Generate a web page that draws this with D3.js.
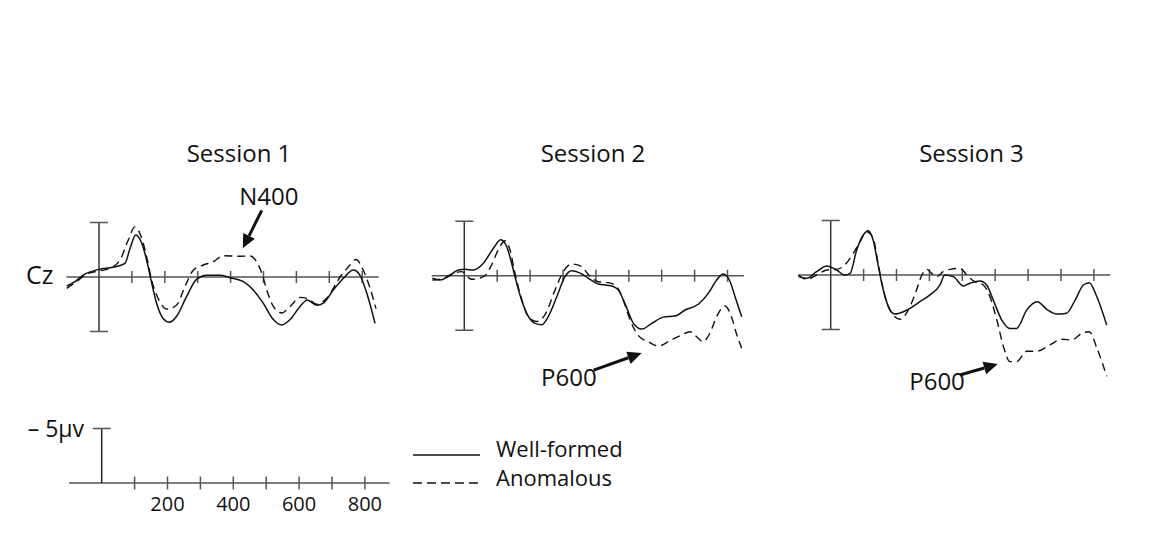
<!DOCTYPE html>
<html>
<head>
<meta charset="utf-8">
<script src="https://cdn.jsdelivr.net/npm/d3@7"></script>
<style>
  body { margin: 0; background: #fff; }
  text { font-family: "Open Sans", sans-serif; fill: #111; }
</style>
</head>
<body>
<div id="chart"></div>
<script>
// ERP waveforms at Cz, [time ms, amplitude µV] (negative plotted up)
const sessions = ["Session 1", "Session 2", "Session 3"];
const conditions = ["Well-formed", "Anomalous"];
const timeTicks = [100, 200, 300, 400, 500, 600, 700, 800];
const scaleLabels = [200, 400, 600, 800];

const wellS1 = [[-98,0.83],[-73,0.43],[-48,-0.18],[0,-0.7],[43,-0.89],[79,-1.26],[94,-2.6],[112,-3.85],[130,-3.1],[147,-1.26],[157,0.12],[175,2.4],[195,3.8],[214,4.15],[236,3.6],[266,1.8],[297,0.2],[327,-0.15],[368,-0.15],[398,0.06],[439,0.43],[469,1.2],[499,2.4],[530,3.9],[555,4.4],[581,3.9],[611,2.7],[633,2.1],[662,2.6],[682,2.4],[712,1.2],[743,0.12],[773,-0.64],[793,-0.18],[814,1.5],[839,4.25]];
const anomS1 = [[-98,1.04],[-68,0.43],[-37,-0.28],[0,-0.55],[33,-0.8],[64,-1.56],[89,-3.4],[109,-4.6],[130,-3.55],[147,-1.56],[160,0.28],[185,2.26],[206,2.94],[236,2.57],[261,0.89],[287,-0.64],[317,-1.1],[347,-1.4],[378,-1.95],[429,-1.9],[459,-1.93],[479,-1.4],[495,-0.34],[510,1.2],[530,2.7],[555,3.3],[581,2.7],[611,1.87],[636,2.0],[662,2.5],[692,1.95],[733,0],[763,-1.1],[781,-1.6],[803,-0.64],[824,1.04],[842,2.9]];

const wellS2 = [[-97,0.24],[-74,0.4],[-49,0.09],[-18,-0.52],[2,-0.59],[27,-0.52],[58,-1.14],[88,-2.5],[111,-3.3],[129,-2.66],[144,-1.14],[154,0.09],[174,2.23],[195,3.76],[215,4.37],[235,4.5],[255,3.76],[281,1.93],[306,0.09],[326,-0.46],[357,-0.16],[377,0.24],[407,0.76],[448,0.94],[468,1.3],[488,2.53],[514,4.37],[539,4.9],[570,4.37],[605,3.8],[641,3.7],[671,3.15],[712,2.6],[742,1.6],[767,0.4],[787,-0.16],[808,0.55],[823,1.93],[843,3.76]];
const anomS2 = [[-97,0.4],[-69,0.3],[-38,-0.16],[-8,-0.37],[22,0.33],[58,0.09],[83,-0.98],[103,-2.36],[124,-3.2],[139,-2.36],[152,-0.52],[169,1.6],[195,3.76],[220,4.2],[245,3.6],[276,1.3],[301,-0.37],[326,-1.07],[357,-0.83],[377,-0.1],[407,0.55],[438,0.64],[463,1.0],[483,2.23],[504,4.06],[529,5.5],[559,6.05],[590,6.45],[625,5.96],[661,5.44],[686,5.14],[706,5.6],[726,6.05],[746,5.3],[767,3.76],[792,2.78],[812,3.76],[827,5.3],[843,6.66]];

const wellS3 = [[-98,0.15],[-73,0.3],[-43,-0.3],[-12,-0.83],[18,-0.46],[43,0],[59,-0.15],[79,-2.3],[99,-3.67],[114,-4.06],[129,-3.2],[145,-0.76],[160,1.38],[180,3.2],[195,3.58],[221,3.37],[246,2.97],[271,2.45],[302,1.83],[332,0.92],[347,0],[373,0.15],[403,1.0],[423,0.76],[454,0.55],[474,0.92],[494,2.3],[520,4.13],[545,4.9],[565,4.9],[596,3.2],[628,2.45],[657,3.15],[687,3.58],[717,3.5],[743,2.3],[768,0.92],[786,0.7],[809,2.0],[839,4.6]];
const anomS3 = [[-98,0],[-73,0.4],[-43,0],[-12,-0.46],[18,-0.52],[43,-0.92],[69,-2.0],[89,-3.05],[109,-3.97],[129,-3.37],[145,-0.92],[160,1.38],[180,3.2],[211,4.06],[236,3.2],[261,1.38],[277,0],[292,-0.52],[307,-0.15],[322,0.15],[342,-0.3],[363,-0.52],[393,-0.61],[418,0.15],[438,0.61],[464,0.92],[484,2.0],[505,4.13],[525,6.57],[545,7.95],[565,7.95],[596,7.0],[626,7.0],[667,6.4],[702,5.9],[733,5.96],[763,5.35],[786,5.2],[809,6.7],[839,9.3]];

const wellSeries = [wellS1, wellS2, wellS3];
const anomSeries = [anomS1, anomS2, anomS3];

// annotation labels: [panel, label, tip time ms, tip amplitude µV]
const components = [[0, "N400", 437, -2.63], [1, "P600", 539, 7.1], [2, "P600", 508, 8.17]];

const width = 1155;
const height = 533;
const pxPer100ms = 32.9;
const pxPer5uv = 54.5;

// panel placement
const panels = [
  {x0: 99, y0: 277, titleX: 239, tail: [19, -38], label: [26, -43], anchor: "middle"},
  {x0: 464.3, y0: 275.7, titleX: 593, tail: [-48, 17], label: [-45, 33], anchor: "end"},
  {x0: 830.7, y0: 275, titleX: 971.5, tail: [-38, 11], label: [-33, 26], anchor: "end"}
];

const svg = d3.select("#chart")
  .append("svg")
  .attr("width", width)
  .attr("height", height);

const axisColor = "#555";

function xScaleFor(x0) {
  return d3.scaleLinear().domain([0, 800]).range([x0, x0 + 8 * pxPer100ms]);
}
function yScaleFor(y0) {
  return d3.scaleLinear().domain([-5, 5]).range([y0 - pxPer5uv, y0 + pxPer5uv]);
}

function arrow(g, tx, ty, fx, fy) {
  const ang = Math.atan2(ty - fy, tx - fx);
  const len = 14, half = 6.5;
  const bx = tx - len * Math.cos(ang), by = ty - len * Math.sin(ang);
  g.append("line")
    .attr("x1", fx).attr("y1", fy)
    .attr("x2", bx).attr("y2", by)
    .attr("stroke", "#111").attr("stroke-width", 3);
  g.append("path")
    .attr("d", d3.line()([
      [tx, ty],
      [bx + half * Math.sin(ang), by - half * Math.cos(ang)],
      [bx - half * Math.sin(ang), by + half * Math.cos(ang)]
    ]) + "Z")
    .attr("fill", "#111");
}

panels.forEach(function(p, i) {
  const x = xScaleFor(p.x0);
  const y = yScaleFor(p.y0);
  const g = svg.append("g");

  // time axis
  g.append("line")
    .attr("x1", x(-99)).attr("x2", x(850))
    .attr("y1", y(0)).attr("y2", y(0))
    .attr("stroke", axisColor).attr("stroke-width", 1.5);
  g.selectAll(".tick")
    .data(timeTicks)
    .enter()
    .append("line")
      .attr("x1", function(d) { return x(d); })
      .attr("x2", function(d) { return x(d); })
      .attr("y1", y(0) - 6).attr("y2", y(0) + 6)
      .attr("stroke", axisColor).attr("stroke-width", 1.5);

  // amplitude bar
  g.append("line")
    .attr("x1", x(0)).attr("x2", x(0))
    .attr("y1", y(-5)).attr("y2", y(5))
    .attr("stroke", "#333").attr("stroke-width", 1.5);
  [-5, 5].forEach(function(v) {
    g.append("line")
      .attr("x1", x(0) - 9).attr("x2", x(0) + 9)
      .attr("y1", y(v)).attr("y2", y(v))
      .attr("stroke", axisColor).attr("stroke-width", 1.5);
  });

  const line = d3.line()
    .x(function(d) { return x(d[0]); })
    .y(function(d) { return y(d[1]); })
    .curve(d3.curveMonotoneX);

  g.append("path")
    .datum(anomSeries[i])
    .attr("d", line)
    .attr("fill", "none")
    .attr("stroke", "#111")
    .attr("stroke-width", 1.4)
    .attr("stroke-dasharray", "8,5");

  g.append("path")
    .datum(wellSeries[i])
    .attr("d", line)
    .attr("fill", "none")
    .attr("stroke", "#111")
    .attr("stroke-width", 1.5);

  g.append("text")
    .attr("x", p.titleX)
    .attr("y", 162)
    .style("text-anchor", "middle")
    .style("font-size", "24px")
    .text(sessions[i]);

  components.filter(function(c) { return c[0] === i; }).forEach(function(c) {
    const tx = x(c[2]), ty = y(c[3]);
    arrow(g, tx, ty, tx + p.tail[0], ty + p.tail[1]);
    g.append("text")
      .attr("x", tx + p.label[0])
      .attr("y", ty + p.label[1])
      .style("text-anchor", p.anchor)
      .style("font-size", "24px")
      .text(c[1]);
  });
});

svg.append("text")
  .attr("x", 26)
  .attr("y", 284)
  .style("font-size", "25px")
  .text("Cz");

// calibration scale
const sx = xScaleFor(101.7);
const sy = yScaleFor(483);
const sg = svg.append("g");
sg.append("line")
  .attr("x1", sx(-99)).attr("x2", sx(875))
  .attr("y1", sy(0)).attr("y2", sy(0))
  .attr("stroke", axisColor).attr("stroke-width", 1.5);
sg.selectAll(".tick")
  .data(timeTicks)
  .enter()
  .append("line")
    .attr("x1", function(d) { return sx(d); })
    .attr("x2", function(d) { return sx(d); })
    .attr("y1", sy(0) - 6.5).attr("y2", sy(0) + 6.5)
    .attr("stroke", axisColor).attr("stroke-width", 1.5);
sg.append("line")
  .attr("x1", sx(0)).attr("x2", sx(0))
  .attr("y1", sy(-5)).attr("y2", sy(0))
  .attr("stroke", "#222").attr("stroke-width", 1.5);
sg.append("line")
  .attr("x1", sx(0) - 9).attr("x2", sx(0) + 9)
  .attr("y1", sy(-5)).attr("y2", sy(-5))
  .attr("stroke", axisColor).attr("stroke-width", 1.5);
sg.selectAll(".lab")
  .data(scaleLabels)
  .enter()
  .append("text")
    .attr("x", function(d) { return sx(d); })
    .attr("y", 511)
    .style("text-anchor", "middle")
    .style("font-size", "20px")
    .text(function(d) { return d; });
sg.append("text")
  .attr("x", 84)
  .attr("y", 437)
  .style("text-anchor", "end")
  .style("font-size", "23px")
  .text("– 5µv");

// legend
const legend = svg.append("g");
conditions.forEach(function(c, i) {
  legend.append("line")
    .attr("x1", 413).attr("x2", 480)
    .attr("y1", 455 + i * 28).attr("y2", 455 + i * 28)
    .attr("stroke", "#111")
    .attr("stroke-width", 1.4)
    .attr("stroke-dasharray", i === 1 ? "9,5" : null);
  legend.append("text")
    .attr("x", 496)
    .attr("y", 457 + i * 29)
    .style("font-size", "22px")
    .text(c);
});
</script>
</body>
</html>
